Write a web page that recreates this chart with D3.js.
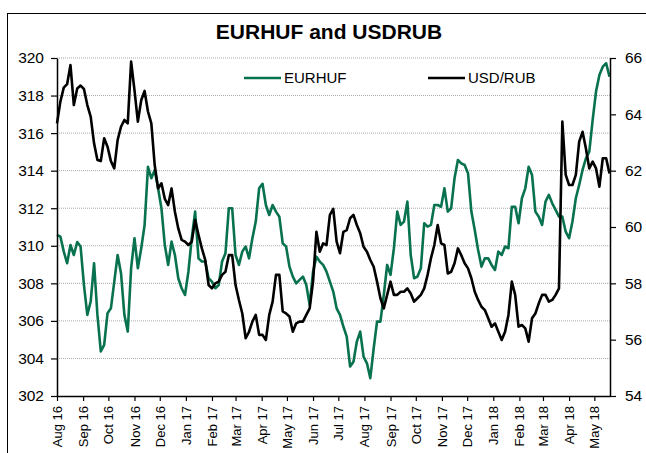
<!DOCTYPE html>
<html>
<head>
<meta charset="utf-8">
<script src="https://d3js.org/d3.v7.min.js"></script>
<style>
  body { margin: 0; background: #fff; }
  text { font-family: Arial, "Liberation Sans", sans-serif; fill: #000; }
</style>
</head>
<body>
<div id="chart"></div>
<script>
// series sampled every 4 days starting 1 Aug 2016
var startDate = "2016-08-01";
var stepDays = 4;

var eurhuf = [
  310.58, 310.49, 309.70, 309.07, 310.04, 309.51, 310.20, 309.96, 307.91, 306.32,
  307.03, 309.07, 306.32, 304.37, 304.72, 306.41, 306.67, 308.09, 309.51, 308.54,
  306.32, 305.43, 308.80, 310.40, 308.80, 309.87, 311.10, 314.20,
  313.60, 314.04, 313.06, 312.00, 310.04, 308.98, 310.22, 309.51, 308.27, 307.74,
  307.38, 308.62, 310.40, 311.82, 309.33, 309.16, 309.16, 308.27, 308.09, 307.74,
  307.91, 309.16, 309.60, 312.00, 312.00, 309.51, 308.98, 309.69,
  309.96, 309.33, 310.40, 311.29, 313.06, 313.30, 312.17, 311.64, 312.17, 311.82,
  311.55, 310.13, 309.96, 308.89, 308.36, 308.00, 308.18, 308.36, 307.91, 306.85,
  308.62, 309.42, 309.16, 308.98, 308.62, 308.09, 307.56,
  306.67, 306.32, 305.70, 305.16, 303.57, 303.83, 304.90, 305.43, 304.10, 303.74,
  302.95, 304.54, 305.96, 305.96, 307.38, 308.98, 308.45, 309.87, 311.82, 311.11,
  311.29, 312.35, 309.51, 308.27, 308.36, 308.80, 311.20, 311.02,
  311.11, 312.17, 312.17, 312.08, 313.06, 311.82, 312.00, 313.60, 314.57, 314.39,
  314.30, 313.86, 311.82, 310.84, 309.78, 308.89, 309.33, 309.33, 308.98, 308.71,
  309.69, 309.51, 309.96, 309.87, 312.08, 312.08, 311.20, 312.53,
  313.06, 314.21, 313.77, 311.82, 311.55, 311.11, 312.35, 312.71, 312.26, 311.91,
  311.55, 311.55, 310.75, 310.40, 311.29, 312.53, 313.24, 314.04, 314.66, 315.01,
  316.70, 318.21, 319.10, 319.54, 319.72, 319.00
];

var usdrub = [
  63.68, 64.45, 64.95, 65.07, 65.75, 64.33, 64.92, 65.02, 64.90, 64.33,
  63.92, 62.97, 62.38, 62.34, 63.15, 62.85, 62.34, 62.08, 63.09, 63.56,
  63.80, 63.68, 65.87, 64.86, 63.74, 64.50, 64.83, 64.10,
  63.68, 62.20, 61.37, 61.55, 61.00, 60.78, 61.37, 60.54, 59.95, 59.54,
  59.48, 59.36, 59.48, 60.25, 59.72, 59.24, 58.83, 57.94, 57.82, 58.00,
  58.06, 58.30, 58.41, 59.00, 59.00, 57.94, 57.41, 56.93,
  56.05, 56.28, 56.64, 56.88, 56.17, 56.17, 55.99, 56.88, 57.35, 58.30,
  58.30, 57.00, 56.93, 56.82, 56.28, 56.58, 56.64, 56.64, 56.88, 57.11,
  58.06, 59.83, 59.12, 59.42, 59.36, 60.43, 60.64,
  59.48, 59.07, 59.83, 59.89, 60.31, 60.43, 60.07, 59.78, 59.30, 59.12,
  58.83, 58.59, 58.06, 57.47, 57.11, 57.59, 58.06, 57.59, 57.59, 57.70,
  57.70, 57.82, 57.64, 57.35, 57.47, 57.59, 57.82, 58.30,
  58.89, 59.36, 60.07, 59.42, 59.36, 58.35, 58.41, 58.71, 59.24, 59.00,
  58.71, 58.53, 58.18, 57.70, 57.41, 57.17, 57.05, 56.76, 56.46, 56.58,
  56.28, 55.99, 56.28, 56.88, 58.06, 57.59, 56.46, 56.52,
  56.40, 55.93, 56.76, 56.93, 57.29, 57.59, 57.59, 57.35, 57.41, 57.59,
  57.82, 63.74, 61.85, 61.49, 61.49, 61.85, 63.03, 63.38, 62.79, 62.08,
  62.32, 62.08, 61.43, 62.44, 62.44, 61.90
];

var monthLabels = ["Aug 16", "Sep 16", "Oct 16", "Nov 16", "Dec 16", "Jan 17", "Feb 17",
  "Mar 17", "Apr 17", "May 17", "Jun 17", "Jul 17", "Aug 17", "Sep 17", "Oct 17",
  "Nov 17", "Dec 17", "Jan 18", "Feb 18", "Mar 18", "Apr 18", "May 18"];
var leftTicks = [302, 304, 306, 308, 310, 312, 314, 316, 318, 320];
var rightTicks = [54, 56, 58, 60, 62, 64, 66];

var seriesNames = ["EURHUF", "USD/RUB"];
var seriesColors = ["#08714f", "#000000"];

const width = 646;
const height = 453;
const plot = { left: 57, right: 610, top: 58, bottom: 396 };

var start = d3.utcParse("%Y-%m-%d")(startDate);
var parseMonth = d3.utcParse("%b %y");
var tickDates = monthLabels.map(parseMonth);

var rows = eurhuf.map(function(v, i) {
  return { date: d3.utcDay.offset(start, i * stepDays), huf: v, rub: usdrub[i] };
});

var x = d3.scaleUtc()
  .domain([start, new Date(Date.UTC(2018, 4, 19, 14))])
  .range([plot.left, plot.right]);
var yL = d3.scaleLinear().domain([302, 320]).range([plot.bottom, plot.top]);
var yR = d3.scaleLinear().domain([54, 66]).range([plot.bottom, plot.top]);

const svg = d3.select("#chart").append("svg")
  .attr("width", width)
  .attr("height", height);

svg.append("rect")
  .attr("width", width).attr("height", height)
  .attr("fill", "#fff");

// outer frame (runs off the right and bottom edge)
svg.append("rect")
  .attr("x", 7.5).attr("y", 13.5)
  .attr("width", 700).attr("height", 500)
  .attr("fill", "none")
  .attr("stroke", "#000")
  .attr("stroke-width", 1);

svg.append("text")
  .attr("x", 329).attr("y", 39)
  .attr("text-anchor", "middle")
  .style("font-size", "21px")
  .style("font-weight", "bold")
  .text("EURHUF and USDRUB");

// gridlines
svg.append("g").selectAll("line")
  .data(leftTicks.filter(function(d) { return d > 302; }))
  .enter()
  .append("line")
  .attr("x1", plot.left).attr("x2", plot.right)
  .attr("y1", function(d) { return yL(d); })
  .attr("y2", function(d) { return yL(d); })
  .attr("stroke", "#a8a8a8")
  .attr("stroke-width", 1)
  .attr("stroke-dasharray", "1,1");

// series
var lineHuf = d3.line()
  .x(function(d) { return x(d.date); })
  .y(function(d) { return yL(d.huf); });
var lineRub = d3.line()
  .x(function(d) { return x(d.date); })
  .y(function(d) { return yR(d.rub); });

svg.append("path")
  .datum(rows)
  .attr("d", lineHuf)
  .attr("fill", "none")
  .attr("stroke", seriesColors[0])
  .attr("stroke-width", 2.6)
  .attr("stroke-linejoin", "round");

svg.append("path")
  .datum(rows)
  .attr("d", lineRub)
  .attr("fill", "none")
  .attr("stroke", seriesColors[1])
  .attr("stroke-width", 2.6)
  .attr("stroke-linejoin", "round");

// axes
var gLeft = svg.append("g")
  .attr("transform", "translate(" + plot.left + ",0)")
  .call(d3.axisLeft(yL).tickValues(leftTicks).tickSize(6).tickSizeOuter(0).tickPadding(7)
    .tickFormat(d3.format("d")));
var gRight = svg.append("g")
  .attr("transform", "translate(" + plot.right + ",0)")
  .call(d3.axisRight(yR).tickValues(rightTicks).tickSize(6).tickSizeOuter(0).tickPadding(9)
    .tickFormat(d3.format("d")));
var gBottom = svg.append("g")
  .attr("transform", "translate(0," + plot.bottom + ")")
  .call(d3.axisBottom(x).tickValues(tickDates).tickSize(5).tickSizeOuter(0)
    .tickFormat(d3.utcFormat("%b %y")));

gBottom.selectAll("text")
  .attr("transform", "rotate(-90)")
  .attr("text-anchor", "end")
  .attr("x", -10)
  .attr("y", 0)
  .attr("dy", "0.35em")
  .style("font-size", "13px");

[gLeft, gRight].forEach(function(g) {
  g.selectAll("text").style("font-size", "15.5px");
});
[gLeft, gRight, gBottom].forEach(function(g) {
  g.selectAll(".domain").attr("stroke", "#000").attr("stroke-width", 1.5);
  g.selectAll(".tick line").attr("stroke", "#000").attr("stroke-width", 1.2);
});

// legend
var legendX = [244, 428];
var legend = svg.append("g").selectAll("g")
  .data(seriesNames)
  .enter()
  .append("g")
  .attr("transform", function(d, i) { return "translate(" + legendX[i] + ",78)"; });

legend.append("line")
  .attr("x1", 0).attr("x2", 37)
  .attr("stroke", function(d, i) { return seriesColors[i]; })
  .attr("stroke-width", 2.6);
legend.append("text")
  .attr("x", 40)
  .attr("dy", "0.36em")
  .style("font-size", "15px")
  .text(function(d) { return d; });
</script>
</body>
</html>
